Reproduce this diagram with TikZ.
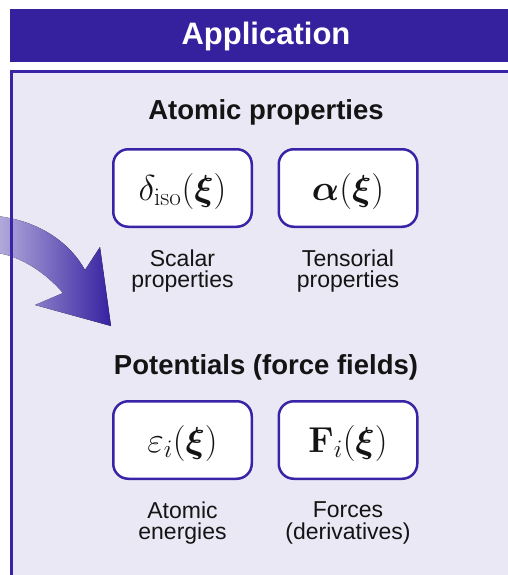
\RequirePackage{fix-cm}
\documentclass[tikz,border=0pt]{standalone}
\usepackage{amsmath}
\usepackage{amssymb}
\usepackage[no-math]{fontspec}
\setmainfont{Liberation Sans}
\usetikzlibrary{calc}
\usetikzlibrary{positioning}

\definecolor{barpurple}{HTML}{35209E}
\definecolor{framepurple}{HTML}{3A23A6}
\definecolor{panelfill}{HTML}{E9E8F4}
\definecolor{arrowdark}{HTML}{3621A0}
\definecolor{arrowlight}{HTML}{B4ACDC}
\definecolor{inkblack}{HTML}{141414}

\tikzset{
    quantity/.style={draw=framepurple, line width=2.5pt, fill=white,
        rounded corners=15pt, minimum width=138.5pt, minimum height=77.5pt,
        inner sep=0pt, text=inkblack, font=\fontsize{36}{36}\selectfont,
        text height=34pt, text depth=9pt},
    heading/.style={font=\fontsize{27.5}{30}\selectfont\bfseries,
        text=inkblack, anchor=base},
    caption/.style={font=\fontsize{23}{21.5}\selectfont, align=center,
        text=inkblack, inner sep=0pt},
}

\begin{document}
\begin{tikzpicture}[x=1pt, y=-1pt]
            \def\dx{165.5}
            \def\dy{83}
            \useasboundingbox (0,0) rectangle (508,575);

            % Title bar
            \fill[barpurple] (10,9.5) rectangle (530,62);
            \node[text=white, anchor=base, font=\fontsize{31}{33}\selectfont\bfseries]
                (app) at (266,45) {Application};

            % Panel
            \fill[panelfill] (11.5,71.5) rectangle (530,600);

            % Incoming arrow
            \fill[left color=arrowlight, right color=arrowdark]
                (-3,216) .. controls (40,221) and (70,243) .. (85,270)
                -- (100,247) -- (111,326) -- (35,305) -- (63,293)
                .. controls (45,272) and (20,256) .. (-3,253) -- cycle;
            \draw[framepurple, line width=3pt] (11.5,600) -- (11.5,71.5) -- (530,71.5);

            % Atomic properties
            \node[heading] (atomic) at (266,119.5) {Atomic properties};
            \node[quantity] (delta) at (182.5,188) {$\delta_{\mathrm{iso}}(\boldsymbol{\xi})$};
            \node[quantity] (alpha) at ($(delta) + (\dx,0)$) {$\boldsymbol{\alpha}(\boldsymbol{\xi})$};
            \node[caption] (scalar) at ($(delta) + (0,\dy)$) {Scalar\\properties};
            \node[caption] (tensorial) at ($(alpha) + (0,\dy)$) {Tensorial\\properties};

            % Potentials
            \node[heading] (potentials) at (266,374) {Potentials (force fields)};
            \node[quantity] (energy) at (182.5,440) {$\varepsilon_i(\boldsymbol{\xi})$};
            \node[quantity] (force) at ($(energy) + (\dx,0)$) {$\mathbf{F}_i(\boldsymbol{\xi})$};
            \node[caption] (energies) at ($(energy) + (0,\dy)$) {Atomic\\energies};
            \node[caption] (forces) at ($(force) + (0,\dy)$) {Forces\\(derivatives)};
        \end{tikzpicture}
\end{document}
